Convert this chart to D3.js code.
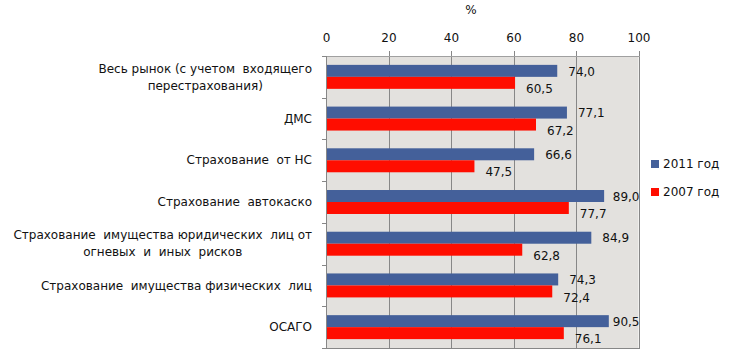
<!DOCTYPE html>
<html><head><meta charset="utf-8">
<script src="https://cdn.jsdelivr.net/npm/d3@7"></script>
<style>
html,body{margin:0;padding:0;background:#fff;}
svg{display:block;}
text{font-family:"DejaVu Sans",Verdana,sans-serif;font-size:12px;fill:#111;}
</style></head>
<body>
<script>
const categories = [
  ["Весь рынок (с учетом  входящего", "перестрахования)"],
  ["ДМС"],
  ["Страхование  от НС"],
  ["Страхование  автокаско"],
  ["Страхование  имущества юридических  лиц от", "огневых  и  иных  рисков"],
  ["Страхование  имущества физических  лиц"],
  ["ОСАГО"]
];
const seriesNames = ["2011 год", "2007 год"];
const values2011 = [74.0, 77.1, 66.6, 89.0, 84.9, 74.3, 90.5];
const values2007 = [60.5, 67.2, 47.5, 77.7, 62.8, 72.4, 76.1];
const xTicks = [0, 20, 40, 60, 80, 100];
const axisTitle = "%";

const W = 748, H = 358;
const plot = {left: 326, right: 638.5, top: 56, bottom: 348};
const colors = {"2011 год": "#44609a", "2007 год": "#ff0d00"};
const gridColor = "#878787";

const svg = d3.select("body").append("svg").attr("width", W).attr("height", H);

const x = d3.scaleLinear().domain([0, 100]).range([plot.left, plot.right]);
const idx = categories.map((d, i) => i);
const y = d3.scaleBand().domain(idx).range([plot.top, plot.bottom]).padding(0);
const yInner = d3.scaleBand().domain(seriesNames).range([0, y.bandwidth()]).paddingInner(0).paddingOuter(0.74);

// background
svg.append("rect").attr("x", plot.left).attr("y", plot.top)
  .attr("width", plot.right - plot.left).attr("height", plot.bottom - plot.top)
  .attr("fill", "#e3e1de");

// gridlines + top ticks
svg.append("g").selectAll("line").data(xTicks.filter(t => t > 0)).join("line")
  .attr("x1", d => Math.round(x(d)) + 0.5).attr("x2", d => Math.round(x(d)) + 0.5)
  .attr("y1", plot.top - 5).attr("y2", plot.bottom)
  .attr("stroke", gridColor).attr("stroke-width", 1);

// top border
svg.append("line").attr("x1", plot.left).attr("x2", Math.round(plot.right) + 1)
  .attr("y1", plot.top + 0.5).attr("y2", plot.top + 0.5).attr("stroke", "#a0a0a0");

// top axis labels
svg.append("g").selectAll("text").data(xTicks).join("text")
  .attr("x", d => x(d) + 0.5).attr("y", 41.5).attr("text-anchor", "middle")
  .text(d => d);

svg.append("text").attr("x", 471).attr("y", 14).attr("text-anchor", "middle").text(axisTitle);

// bars
const data = idx.map(i => ({i, vals: [values2011[i], values2007[i]]}));
const groups = svg.append("g").selectAll("g").data(data).join("g")
  .attr("transform", d => `translate(0,${y(d.i)})`);
groups.selectAll("rect").data(d => d.vals.map((v, k) => ({k, v}))).join("rect")
  .attr("x", plot.left).attr("y", d => yInner(seriesNames[d.k]))
  .attr("width", d => x(d.v) - x(0)).attr("height", yInner.bandwidth())
  .attr("fill", d => colors[seriesNames[d.k]]);

// value labels
const fmt = v => v.toFixed(1).replace(".", ",");
groups.selectAll("text.val").data(d => d.vals.map((v, k) => ({k, v}))).join("text")
  .attr("class", "val")
  .attr("y", d => yInner(seriesNames[d.k]) + yInner.bandwidth() / 2 + (d.k === 0 ? 0.5 : 6))
  .attr("dy", "0.35em")
  .text(d => fmt(d.v))
  .each(function(d) {
    const w = this.getComputedTextLength();
    const xx = Math.min(x(d.v) + 11, plot.right + 1 - w);
    d3.select(this).attr("x", xx);
  });

// left axis
svg.append("line").attr("x1", plot.left + 0.5).attr("x2", plot.left + 0.5)
  .attr("y1", plot.top).attr("y2", plot.bottom).attr("stroke", gridColor);
svg.append("line").attr("x1", plot.left - 4).attr("x2", Math.round(plot.right) + 1)
  .attr("y1", plot.bottom + 0.5).attr("y2", plot.bottom + 0.5).attr("stroke", gridColor);
const bounds = idx.map(i => y(i)).concat([plot.bottom]);
svg.append("g").selectAll("line").data(bounds).join("line")
  .attr("x1", plot.left - 4).attr("x2", plot.left)
  .attr("y1", d => Math.round(d) + 0.5).attr("y2", d => Math.round(d) + 0.5)
  .attr("stroke", gridColor);

// category labels (block right-aligned at 312, lines centred within block)
const labelRight = 312;
const cl = svg.append("g").selectAll("g").data(idx).join("g");
cl.each(function(i) {
  const lines = categories[i];
  const cy = y(i) + y.bandwidth() / 2;
  const lh = 17;
  const g = d3.select(this);
  const ts = g.selectAll("text").data(lines).join("text")
    .attr("xml:space", "preserve").style("white-space", "pre")
    .attr("text-anchor", "middle")
    .attr("y", (d, j) => cy + (j - (lines.length - 1) / 2) * lh)
    .attr("dy", "0.35em")
    .text(d => d);
  let maxW = 0;
  ts.each(function() { maxW = Math.max(maxW, this.getComputedTextLength()); });
  ts.attr("x", labelRight - maxW / 2);
});

// legend
const lg = svg.append("g").selectAll("g").data(seriesNames).join("g")
  .attr("transform", (d, k) => `translate(651,${160 + k * 28})`);
lg.append("rect").attr("width", 8).attr("height", 8).attr("fill", d => colors[d]);
lg.append("text").attr("x", 12).attr("y", 4).attr("dy", "0.35em").text(d => d);
</script>
</body></html>
